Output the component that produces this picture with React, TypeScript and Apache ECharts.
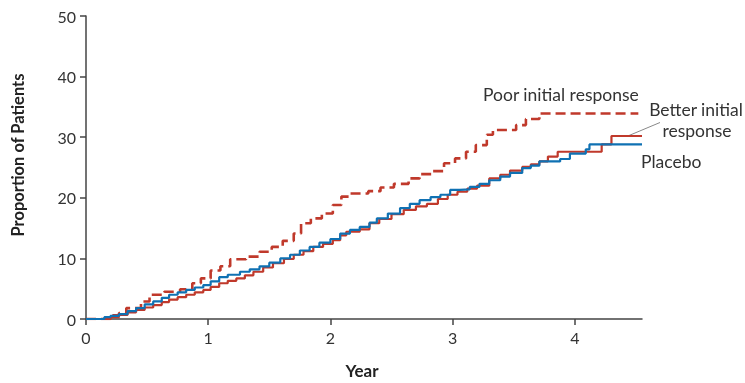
import React, { useEffect, useRef } from "react";
import * as echarts from "echarts";

const xTicks = [0, 1, 2, 3, 4];
const yTicks = [0, 10, 20, 30, 40, 50];

const placebo: [number, number][] = [
  [0, 0], [0.1, 0], [0.15, 0.3], [0.2, 0.5], [0.27, 0.8], [0.34, 1.3], [0.41, 1.8], [0.48, 2.4],
  [0.55, 2.9], [0.62, 3.5], [0.68, 4.0], [0.75, 4.4], [0.82, 4.8], [0.89, 5.2], [0.96, 5.6],
  [1.02, 6.2], [1.09, 6.9], [1.16, 7.3], [1.26, 7.8], [1.34, 8.2], [1.42, 8.7], [1.5, 9.3],
  [1.59, 10.0], [1.67, 10.6], [1.75, 11.3], [1.83, 11.9], [1.91, 12.6], [2.0, 13.2], [2.08, 14.1],
  [2.16, 14.7], [2.24, 15.2], [2.32, 15.9], [2.38, 16.6], [2.47, 17.4], [2.57, 18.3], [2.65, 19.0],
  [2.73, 19.6], [2.82, 20.1], [2.9, 20.5], [2.98, 21.3], [3.06, 21.4], [3.14, 21.8], [3.22, 22.3],
  [3.3, 22.9], [3.39, 23.5], [3.47, 24.1], [3.57, 24.9], [3.64, 25.3], [3.71, 26.0], [3.88, 26.4],
  [3.96, 27.3], [4.09, 28.0], [4.12, 28.8], [4.55, 28.8],
];

const betterResponse: [number, number][] = [
  [0, 0], [0.14, 0], [0.2, 0.3], [0.27, 0.66], [0.34, 1.1], [0.41, 1.5], [0.48, 1.9], [0.55, 2.3],
  [0.62, 2.8], [0.68, 3.2], [0.75, 3.6], [0.82, 4.0], [0.89, 4.4], [0.96, 4.8], [1.02, 5.3],
  [1.09, 5.9], [1.16, 6.3], [1.23, 6.7], [1.3, 7.2], [1.37, 7.8], [1.45, 8.5], [1.53, 9.2],
  [1.62, 9.9], [1.7, 10.6], [1.78, 11.2], [1.86, 11.9], [1.94, 12.4], [2.02, 13.0], [2.08, 13.8],
  [2.13, 14.4], [2.24, 14.8], [2.32, 15.8], [2.4, 16.5], [2.5, 17.3], [2.6, 18.0], [2.7, 18.6],
  [2.79, 19.0], [2.88, 19.8], [2.96, 20.5], [3.04, 21.0], [3.12, 21.5], [3.2, 22.0], [3.3, 23.2],
  [3.39, 23.8], [3.47, 24.5], [3.57, 25.1], [3.64, 25.5], [3.71, 26.0], [3.78, 26.8], [3.86, 27.6],
  [4.22, 28.8], [4.3, 30.2], [4.55, 30.2],
];

const poorResponse: [number, number][] = [
  [0, 0], [0.11, 0], [0.2, 0.6], [0.27, 1.0], [0.33, 1.8], [0.45, 2.9], [0.52, 4.0], [0.64, 4.5],
  [0.77, 4.9], [0.87, 5.9], [0.94, 6.7], [1.02, 8.0], [1.1, 8.7], [1.18, 9.85], [1.31, 10.3],
  [1.42, 11.1], [1.52, 11.9], [1.61, 12.9], [1.7, 14.1], [1.76, 15.8], [1.84, 16.6], [1.93, 17.4],
  [2.02, 18.8], [2.09, 20.2], [2.16, 20.7], [2.31, 21.1], [2.41, 21.7], [2.52, 22.3], [2.64, 23.2],
  [2.73, 23.9], [2.83, 24.4], [2.93, 25.7], [3.02, 26.5], [3.11, 27.6], [3.19, 28.7], [3.28, 30.4],
  [3.33, 31.2], [3.52, 32.0], [3.6, 33.0], [3.71, 33.9], [4.52, 33.9],
];

const RED = "#c0392b";
const BLUE = "#0f71b3";
const FONT = "Lato";

export default function App() {
  const ref = useRef<HTMLDivElement>(null);
  useEffect(() => {
    document.body.style.margin = "0";
    const chart = echarts.init(ref.current!, undefined, { renderer: "svg" });
    chart.setOption({
      animation: false,
      grid: { left: 86, right: 103, top: 16, bottom: 64 },
      xAxis: {
        type: "value",
        min: 0,
        max: 4.55,
        interval: 1,
        splitLine: { show: false },
        axisLine: { lineStyle: { color: "#444", width: 1.5 } },
        axisTick: { length: 6, lineStyle: { color: "#444", width: 1.5 }, customValues: xTicks },
        axisLabel: { customValues: xTicks, fontFamily: FONT, fontSize: 16, color: "#333", margin: 10 },
      },
      yAxis: {
        type: "value",
        min: 0,
        max: 50,
        interval: 10,
        splitLine: { show: false },
        axisLine: { show: true, lineStyle: { color: "#444", width: 1.5 } },
        axisTick: { show: true, length: 6, lineStyle: { color: "#444", width: 1.5 }, customValues: yTicks },
        axisLabel: { customValues: yTicks, fontFamily: FONT, fontSize: 16, color: "#333", margin: 10 },
      },
      series: [
        {
          type: "line", step: "end", data: betterResponse, showSymbol: false,
          lineStyle: { color: RED, width: 2.2 }, z: 2,
        },
        {
          type: "line", step: "end", data: poorResponse, showSymbol: false,
          lineStyle: { color: RED, width: 2.6, type: [10, 5] }, z: 2,
        },
        {
          type: "line", step: "end", data: placebo, showSymbol: false,
          lineStyle: { color: BLUE, width: 2.2 }, z: 3,
        },
      ],
      graphic: [
        { type: "text", x: 18, y: 155, rotation: Math.PI / 2, style: { text: "Proportion of Patients", fontFamily: FONT, fontSize: 16.5, fontWeight: "bold", fill: "#222", align: "center", verticalAlign: "middle" } },
        { type: "text", x: 362, y: 370, style: { text: "Year", fontFamily: FONT, fontSize: 17, fontWeight: "bold", fill: "#222", align: "center", verticalAlign: "middle" } },
        { type: "text", x: 483, y: 94, style: { text: "Poor initial response", fontFamily: FONT, fontSize: 17.5, fill: "#333", align: "left", verticalAlign: "middle" } },
        { type: "text", x: 696, y: 109, style: { text: "Better initial", fontFamily: FONT, fontSize: 17.5, fill: "#333", align: "center", verticalAlign: "middle" } },
        { type: "text", x: 697, y: 130, style: { text: "response", fontFamily: FONT, fontSize: 17.5, fill: "#333", align: "center", verticalAlign: "middle" } },
        { type: "text", x: 641, y: 161, style: { text: "Placebo", fontFamily: FONT, fontSize: 17.5, fill: "#333", align: "left", verticalAlign: "middle" } },
        { type: "line", shape: { x1: 629, y1: 135.5, x2: 660, y2: 122.5 }, style: { stroke: "#888", lineWidth: 1 } },
      ],
    });
    return () => chart.dispose();
  }, []);
  return <div ref={ref} style={{ position: "fixed", left: 0, top: 0, width: 745, height: 383 }} />;
}
